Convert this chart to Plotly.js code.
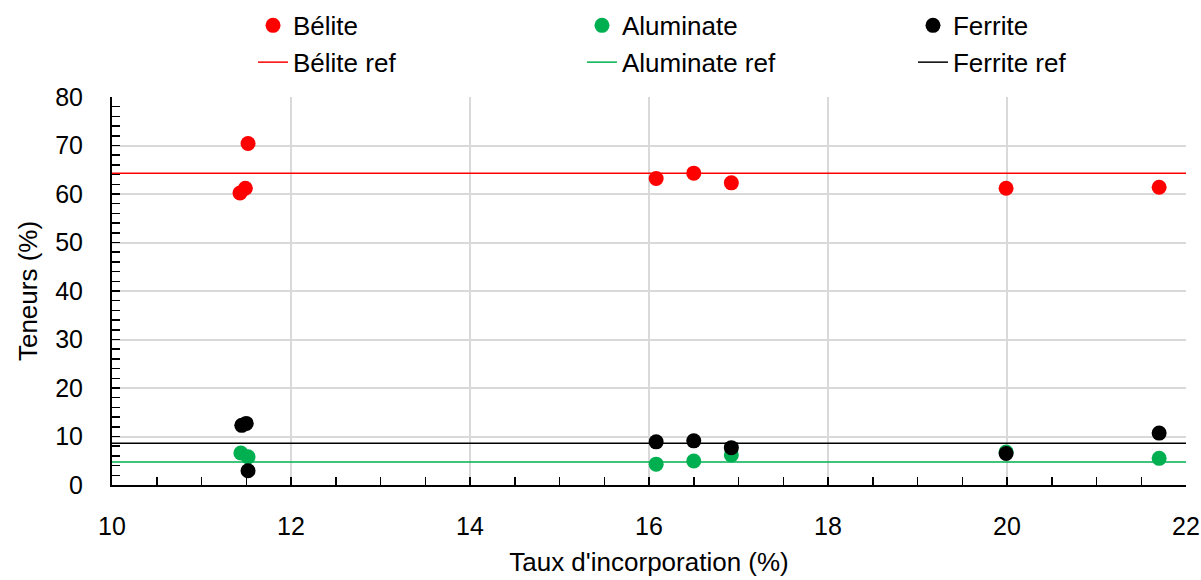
<!DOCTYPE html>
<html>
<head>
<meta charset="utf-8">
<script src="https://cdn.plot.ly/plotly-3.0.1.min.js"></script>
<style>html,body{margin:0;padding:0;background:#fff;}#chart{width:1201px;height:580px;}</style>
</head>
<body>
<div id="chart"></div>
<script>
// Sample incorporation rates (%)
const tauxBelite    = [11.43, 11.49, 11.52, 16.08, 16.50, 16.92, 19.99, 21.70];
const belite        = [60.2, 61.2, 70.4, 63.2, 64.3, 62.3, 61.2, 61.4];
const tauxAluminate = [11.44, 11.52, 16.08, 16.50, 16.92, 19.99, 21.70];
const aluminate     = [6.6, 5.8, 4.3, 4.95, 6.2, 6.8, 5.5];
const tauxFerrite   = [11.45, 11.50, 11.52, 16.08, 16.50, 16.92, 19.99, 21.70];
const ferrite       = [12.3, 12.7, 2.95, 8.9, 9.1, 7.7, 6.5, 10.7];
// Reference levels
const refX         = [10, 22];
const beliteRef    = [64.3, 64.3];
const aluminateRef = [4.75, 4.75];
const ferriteRef   = [8.6, 8.6];

const FONT = '"Liberation Sans", Arial, sans-serif';
const RED = '#ff0000', GREEN = '#00b050', BLACK = '#000000';

const traces = [
  {x: refX, y: beliteRef, mode: 'lines', name: 'Bélite ref', line: {color: RED, width: 1.5}, legend: 'legend', legendrank: 2},
  {x: refX, y: aluminateRef, mode: 'lines', name: 'Aluminate ref', line: {color: GREEN, width: 1.5}, legend: 'legend2', legendrank: 2},
  {x: refX, y: ferriteRef, mode: 'lines', name: 'Ferrite ref', line: {color: BLACK, width: 1.5}, legend: 'legend3', legendrank: 2},
  {x: tauxBelite, y: belite, mode: 'markers', name: 'Bélite', marker: {color: RED, size: 15}, legend: 'legend', legendrank: 1},
  {x: tauxAluminate, y: aluminate, mode: 'markers', name: 'Aluminate', marker: {color: GREEN, size: 15}, legend: 'legend2', legendrank: 1},
  {x: tauxFerrite, y: ferrite, mode: 'markers', name: 'Ferrite', marker: {color: BLACK, size: 15}, legend: 'legend3', legendrank: 1}
];

const legendBase = {yanchor: 'top', y: 1.245, xanchor: 'left', bgcolor: 'rgba(0,0,0,0)',
  font: {family: FONT, size: 26, color: '#000'}, orientation: 'v', traceorder: 'normal', tracegroupgap: 0};

const layout = {
  width: 1201, height: 580,
  margin: {l: 112, r: 15, t: 97, b: 95, autoexpand: false},
  paper_bgcolor: '#fff', plot_bgcolor: '#fff',
  font: {family: FONT, size: 25, color: '#000'},
  showlegend: true,
  legend:  Object.assign({}, legendBase, {x: 0.1313}),
  legend2: Object.assign({}, legendBase, {x: 0.4376}),
  legend3: Object.assign({}, legendBase, {x: 0.7458}),
  xaxis: {
    range: [10, 22], dtick: 2, tick0: 10,
    showline: true, linecolor: '#000', linewidth: 2,
    ticks: 'inside', ticklen: 8, tickwidth: 1.5, tickcolor: '#000',
    minor: {dtick: 0.5, ticks: 'inside', ticklen: 8, tickwidth: 1.5, tickcolor: '#000', showgrid: false},
    showgrid: true, gridcolor: '#d9d9d9', gridwidth: 2,
    zeroline: false, ticklabelstandoff: 18,
    tickfont: {family: FONT, size: 25},
    title: {text: "Taux d'incorporation (%)", font: {family: FONT, size: 26}, standoff: 14}
  },
  yaxis: {
    range: [0, 80], dtick: 10, tick0: 0,
    showline: true, linecolor: '#000', linewidth: 2,
    ticks: 'inside', ticklen: 8, tickwidth: 1.5, tickcolor: '#000',
    minor: {dtick: 2, ticks: 'inside', ticklen: 8, tickwidth: 1.5, tickcolor: '#000', showgrid: false},
    showgrid: true, gridcolor: '#d9d9d9', gridwidth: 2,
    zeroline: false, ticklabelstandoff: 22,
    tickfont: {family: FONT, size: 25},
    title: {text: 'Teneurs (%)', font: {family: FONT, size: 26}, standoff: 10}
  }
};

Plotly.newPlot('chart', traces, layout, {displayModeBar: false, staticPlot: true});
</script>
</body>
</html>
